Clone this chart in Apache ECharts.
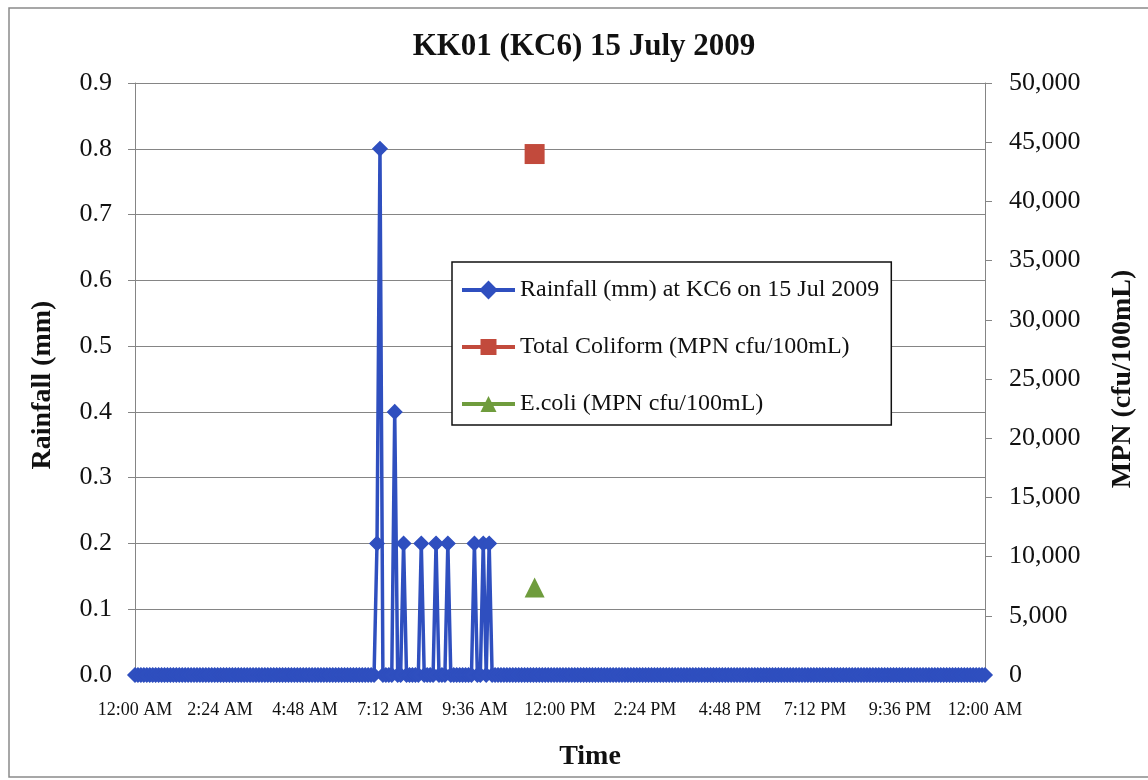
<!DOCTYPE html>
<html>
<head>
<meta charset="utf-8">
<script src="https://cdn.jsdelivr.net/npm/echarts@6/dist/echarts.min.js"></script>
<style>
  html, body { margin: 0; padding: 0; background: #ffffff; }
  #chart { width: 1148px; height: 780px; }
</style>
</head>
<body>
<div id="chart"></div>
<script>
// Chart text
const chartTitle = 'KK01 (KC6) 15 July 2009';
const xTitle = 'Time';
const rainName = 'Rainfall (mm) at KC6 on 15 Jul 2009';
const coliformName = 'Total Coliform (MPN cfu/100mL)';
const ecoliName = 'E.coli (MPN cfu/100mL)';

// Time axis (minutes of the day) and its tick labels
const dayMinutes = 1440;
const tickStepMin = 144;
const timeTickLabels = ['12:00 AM', '2:24 AM', '4:48 AM', '7:12 AM', '9:36 AM', '12:00 PM',
                        '2:24 PM', '4:48 PM', '7:12 PM', '9:36 PM', '12:00 AM'];

// Rain gauge: 5-minute readings; every reading not listed here is 0 mm
const rainStepMin = 5;
const rainTipMinutes = [410, 415, 440, 455, 485, 510, 530, 575, 590, 600];
const rainTipMm = [0.2, 0.8, 0.4, 0.2, 0.2, 0.2, 0.2, 0.2, 0.2, 0.2];

// Water sample (minute of day, MPN cfu/100mL)
const sampleMinute = [677];
const totalColiform = [44000];
const eColi = [7400];

const FONT = 'Liberation Serif';
const BLUE = '#2f4fbf';
const RED = '#c24a3c';
const GREEN = '#6f9c3d';
const GRID = '#858585';

// full-day rainfall record
const rainSeries = [];
for (let t = 0; t <= dayMinutes; t += rainStepMin) {
  const k = rainTipMinutes.indexOf(t);
  rainSeries.push([t, k >= 0 ? rainTipMm[k] : 0]);
}
const coliformSeries = sampleMinute.map((t, i) => [t, totalColiform[i]]);
const ecoliSeries = sampleMinute.map((t, i) => [t, eColi[i]]);

const chart = echarts.init(document.getElementById('chart'), null, { renderer: 'canvas' });

const option = {
  animation: false,
  backgroundColor: '#ffffff',
  textStyle: { fontFamily: FONT, color: '#111' },
  graphic: [
    {
      type: 'rect',
      shape: { x: 9, y: 8, width: 1160, height: 769 },
      style: { fill: 'none', stroke: '#8a8a8a', lineWidth: 1.5 },
      silent: true
    },
    {
      type: 'text',
      x: 584, y: 47,
      style: {
        text: chartTitle,
        font: 'bold 31px "Liberation Serif"',
        fill: '#111',
        textAlign: 'center',
        textVerticalAlign: 'middle'
      }
    },
    {
      type: 'text',
      x: 590, y: 757,
      style: {
        text: xTitle,
        font: 'bold 28px "Liberation Serif"',
        fill: '#111',
        textAlign: 'center',
        textVerticalAlign: 'middle'
      }
    }
  ],
  grid: { left: 135, right: 163, top: 83, bottom: 105, containLabel: false },
  legend: {
    left: 452, top: 262,
    orient: 'vertical',
    data: [rainName, coliformName, ecoliName],
    backgroundColor: '#ffffff',
    borderColor: '#111',
    borderWidth: 1.5,
    padding: [15, 12, 8, 8],
    itemWidth: 53,
    itemHeight: 20,
    itemGap: 31,
    lineStyle: { width: 4 },
    textStyle: { fontFamily: FONT, fontSize: 24, color: '#111', lineHeight: 26 }
  },
  xAxis: {
    type: 'value',
    min: 0, max: dayMinutes, interval: tickStepMin,
    axisLine: { show: true, lineStyle: { color: GRID, width: 1 } },
    axisTick: { show: false },
    splitLine: { show: false },
    axisLabel: {
      fontFamily: FONT, fontSize: 18, color: '#111', margin: 26,
      formatter: (v) => timeTickLabels[Math.round(v / tickStepMin)]
    }
  },
  yAxis: [
    {
      type: 'value',
      min: 0, max: 0.9, interval: 0.1,
      name: 'Rainfall (mm)',
      nameLocation: 'middle',
      nameRotate: 90,
      nameGap: 78,
      nameTextStyle: { fontFamily: FONT, fontSize: 28, fontWeight: 'bold', color: '#111', padding: [0, 12, 0, 0] },
      axisLine: { show: true, lineStyle: { color: GRID, width: 1 } },
      axisTick: { show: true, length: 7, lineStyle: { color: GRID } },
      splitLine: { show: true, lineStyle: { color: GRID, width: 1 } },
      axisLabel: {
        fontFamily: FONT, fontSize: 26, color: '#111', margin: 23,
        formatter: (v) => v.toFixed(1)
      }
    },
    {
      type: 'value',
      position: 'right',
      min: 0, max: 50000, interval: 5000,
      name: 'MPN (cfu/100mL)',
      nameLocation: 'middle',
      nameRotate: 90,
      nameGap: 124,
      nameTextStyle: { fontFamily: FONT, fontSize: 28, fontWeight: 'bold', color: '#111' },
      axisLine: { show: true, lineStyle: { color: GRID, width: 1 } },
      axisTick: { show: true, length: 7, lineStyle: { color: GRID } },
      splitLine: { show: false },
      axisLabel: {
        fontFamily: FONT, fontSize: 26, color: '#111', margin: 24,
        formatter: (v) => v.toLocaleString('en-US')
      }
    }
  ],
  series: [
    {
      name: rainName,
      type: 'line',
      yAxisIndex: 0,
      data: rainSeries,
      symbol: 'diamond',
      symbolSize: 14,
      showAllSymbol: true,
      lineStyle: { color: BLUE, width: 3.5 },
      itemStyle: { color: BLUE, borderColor: BLUE, borderWidth: 1.5 },
      z: 3
    },
    {
      name: coliformName,
      type: 'line',
      yAxisIndex: 1,
      data: coliformSeries,
      symbol: 'rect',
      symbolSize: 20,
      lineStyle: { color: RED, width: 4 },
      itemStyle: { color: RED },
      z: 4
    },
    {
      name: ecoliName,
      type: 'line',
      yAxisIndex: 1,
      data: ecoliSeries,
      symbol: 'triangle',
      symbolSize: 20,
      lineStyle: { color: GREEN, width: 4 },
      itemStyle: { color: GREEN },
      z: 4
    }
  ]
};

chart.setOption(option);
</script>
</body>
</html>
